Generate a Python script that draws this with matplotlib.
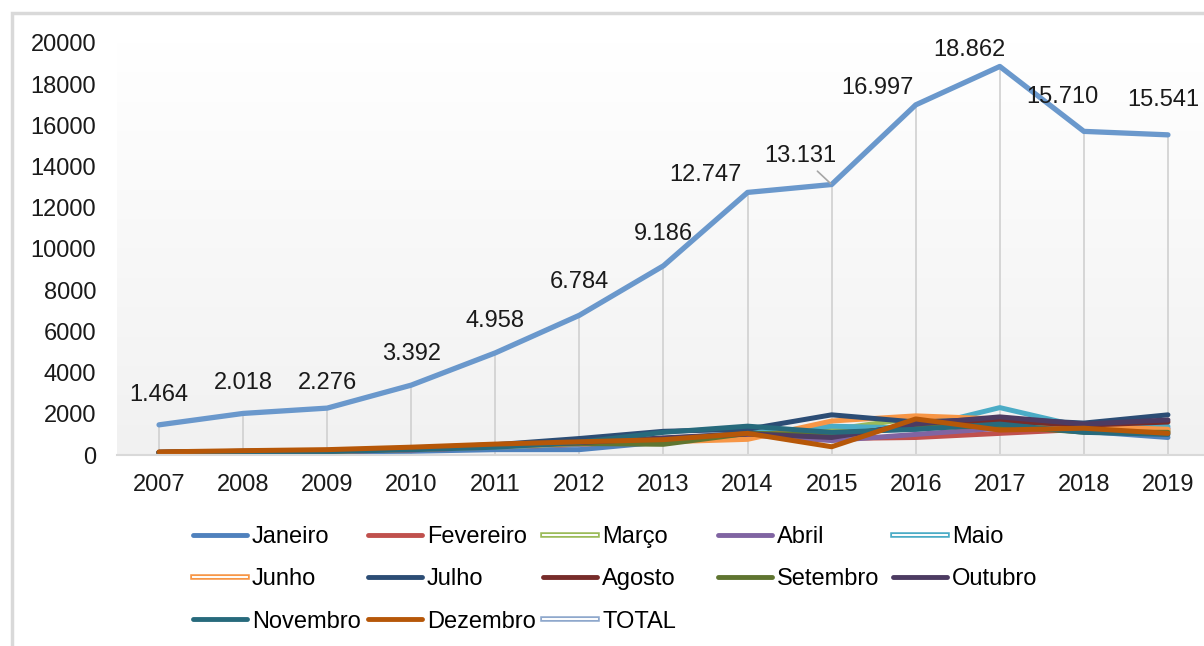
import numpy as np
import matplotlib.pyplot as plt
from matplotlib.lines import Line2D
from matplotlib.patches import Rectangle
from matplotlib.colors import LinearSegmentedColormap
import matplotlib.patheffects as pe

plt.rcParams['font.family'] = ['Liberation Sans', 'DejaVu Sans']

# Dados mensais por ano
anos = [2007, 2008, 2009, 2010, 2011, 2012, 2013, 2014, 2015, 2016, 2017, 2018, 2019]

janeiro   = [110, 140, 150, 180, 260, 260, 640, 1100, 1150, 1250, 1600, 1150, 850]
fevereiro = [105, 150, 170, 250, 380, 520, 700, 1050, 800, 850, 1050, 1250, 1150]
marco     = [120, 160, 185, 270, 400, 540, 620, 1000, 1231, 1800, 1500, 1300, 1200]
abril     = [115, 165, 180, 260, 390, 530, 680, 980, 700, 1000, 1300, 1250, 1300]
maio      = [125, 170, 190, 280, 370, 550, 800, 1050, 1400, 1300, 2300, 1350, 1391]
junho     = [120, 165, 185, 275, 410, 560, 640, 760, 1650, 1900, 1750, 1400, 1250]
julho     = [130, 175, 200, 340, 500, 800, 1150, 1250, 1950, 1600, 1750, 1550, 1950]
agosto    = [125, 170, 195, 300, 450, 600, 760, 1027, 900, 1450, 1650, 1450, 1600]
setembro  = [120, 165, 190, 290, 430, 560, 520, 1050, 1000, 1350, 1400, 1110, 1100]
outubro   = [130, 180, 200, 310, 460, 604, 830, 1030, 850, 1500, 1850, 1500, 1700]
novembro  = [115, 170, 170, 257, 378, 620, 1100, 1400, 1100, 1247, 1500, 1100, 1000]
dezembro  = [150, 210, 260, 380, 530, 640, 746, 1050, 400, 1750, 1212, 1300, 1050]
total     = [1464, 2018, 2276, 3392, 4958, 6784, 9186, 12747, 13131, 16997, 18862, 15710, 15541]

meses = ["Janeiro", "Fevereiro", "Março", "Abril", "Maio", "Junho", "Julho",
         "Agosto", "Setembro", "Outubro", "Novembro", "Dezembro"]
series = [janeiro, fevereiro, marco, abril, maio, junho, julho,
          agosto, setembro, outubro, novembro, dezembro]
cores = ["#4F81BD", "#C0504D", "#9BBB59", "#8064A2", "#4BACC6", "#F79646",
         "#2C4D75", "#772C2A", "#5F7530", "#4D3B62", "#276A7C", "#B65708"]
cor_total = "#6A98CC"
contornadas = {"Março", "Maio", "Junho"}

W, H = 1204, 646
fig = plt.figure(figsize=(W / 100, H / 100), dpi=100)

# moldura do gráfico
fig.patches.append(Rectangle((12 / W, -0.05), 1.1, (H - 13) / H + 0.05,
                             transform=fig.transFigure, fill=False,
                             edgecolor="#D9D9D9", lw=2.5))

ax = fig.add_axes([117 / W, (H - 455) / H, (1210 - 117) / W, (455 - 43) / H])
ax.set_xlim(2006.5, 2019.5)
ax.set_ylim(0, 20000)

# fundo em degradê
grad = LinearSegmentedColormap.from_list("g", ["#FFFFFF", "#F1F1F1"])
ax.imshow(np.linspace(0, 1, 256).reshape(-1, 1), cmap=grad, aspect="auto",
          extent=[2006.5, 2019.5, 0, 20000], zorder=0)

# linhas de projeção
ax.vlines(anos, 0, total, color="#D0D0D0", lw=1.2, zorder=1)

for nome, vals, c in zip(meses, series, cores):
    ax.plot(anos, vals, color=c, lw=3.6, solid_capstyle="round", zorder=2, label=nome)
ax.plot(anos, total, color=cor_total, lw=3.8, solid_capstyle="round", zorder=3, label="TOTAL")

# rótulos de dados
desloc = [(0, 30), (0, 30), (0, 25), (0, 31), (0, 32), (0, 33), (0, 32),
          (-42, 17), (-31, 29), (-38, 17), (-30, 16), (-22, 34), (-5, 35)]
for a, v, (dx, dy) in zip(anos, total, desloc):
    txt = f"{v:,}".replace(",", ".")
    if a == 2015:
        ax.annotate(txt, (a, v), xytext=(dx, dy), textcoords="offset pixels",
                    ha="center", va="center", fontsize=17, color="#1A1A1A",
                    arrowprops=dict(arrowstyle="-", color="#A6A6A6", lw=1.2,
                                    shrinkA=2, shrinkB=1))
    else:
        ax.annotate(txt, (a, v), xytext=(dx, dy), textcoords="offset pixels",
                    ha="center", va="center", fontsize=17, color="#1A1A1A")

ax.set_xticks(anos)
ax.set_yticks(range(0, 20001, 2000))
ax.tick_params(axis="both", length=0, labelsize=17, labelcolor="#1A1A1A")
ax.tick_params(axis="y", pad=15)
ax.tick_params(axis="x", pad=14)
for s in ["top", "right", "left"]:
    ax.spines[s].set_visible(False)
ax.spines["bottom"].set_color("#D9D9D9")
ax.spines["bottom"].set_linewidth(1.5)

# legenda em colunas fixas
def alca(nome, c):
    if nome in contornadas or nome == "TOTAL":
        h = Line2D([], [], color="white", lw=1.4)
        h.set_path_effects([pe.Stroke(linewidth=4, foreground=c), pe.Normal()])
        return h
    return Line2D([], [], color=c, lw=3.5, solid_capstyle="round")

nomes = meses + ["TOTAL"]
cores_leg = cores + ["#8FA8CC"]
colunas_x = [193, 368, 543, 718, 893]
for j, x in enumerate(colunas_x):
    idx = [i for i in range(len(nomes)) if i % 5 == j]
    fig.legend([alca(nomes[i], cores_leg[i]) for i in idx], [nomes[i] for i in idx],
               loc="upper left", bbox_to_anchor=(x / W, (H - 526) / H),
               frameon=False, fontsize=17, handlelength=2.3, handletextpad=0.2,
               labelspacing=0.86, borderpad=0, borderaxespad=0)

fig.savefig("out.png", dpi=100)
